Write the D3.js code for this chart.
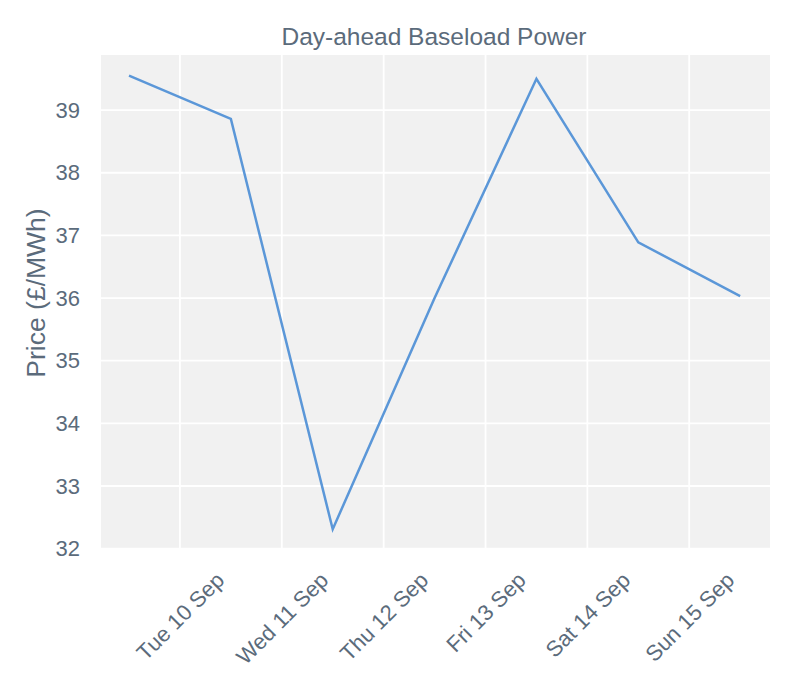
<!DOCTYPE html>
<html>
<head>
<meta charset="utf-8">
<script src="https://cdn.jsdelivr.net/npm/d3@7"></script>
<style>
  body { margin: 0; background: #ffffff; }
  svg { display: block; }
  text { font-family: "Liberation Sans", Arial, Helvetica, sans-serif; fill: #5b6b7b; }
</style>
</head>
<body>
<svg id="chart" width="800" height="700"></svg>
<script>
// ---- data ----
const dates = ["2024-09-09T12:00", "2024-09-10T12:00", "2024-09-11T12:00", "2024-09-12T12:00",
               "2024-09-13T12:00", "2024-09-14T12:00", "2024-09-15T12:00"];
const prices = [39.55, 38.86, 32.31, 36.0, 39.50, 36.89, 36.03];
const xTickDates = ["2024-09-10", "2024-09-11", "2024-09-12", "2024-09-13", "2024-09-14", "2024-09-15"];
const yTicks = [32, 33, 34, 35, 36, 37, 38, 39];
const xDomain = ["2024-09-09T05:24", "2024-09-15T19:02"];
const yDomain = [32.01, 39.88];
const title = "Day-ahead Baseload Power";
const yLabel = "Price (£/MWh)";

// ---- layout ----
const plot = { left: 101, right: 770, top: 55, bottom: 548 };
const parse = s => new Date(s + (s.length === 10 ? "T00:00" : "") + "Z");

const svg = d3.select("#chart");
const x = d3.scaleUtc().domain(xDomain.map(parse)).range([plot.left, plot.right]);
const y = d3.scaleLinear().domain(yDomain).range([plot.bottom, plot.top]);

// background
svg.append("rect")
  .attr("x", plot.left).attr("y", plot.top)
  .attr("width", plot.right - plot.left).attr("height", plot.bottom - plot.top)
  .attr("fill", "#f1f1f1");

// grid
const grid = svg.append("g");
grid.selectAll("line.v").data(xTickDates.map(parse)).join("line")
  .attr("x1", d => x(d)).attr("x2", d => x(d))
  .attr("y1", plot.top).attr("y2", plot.bottom)
  .attr("stroke", "#ffffff").attr("stroke-width", 1.8);
grid.selectAll("line.h").data(yTicks).join("line")
  .attr("x1", plot.left).attr("x2", plot.right)
  .attr("y1", d => y(d)).attr("y2", d => y(d))
  .attr("stroke", "#ffffff").attr("stroke-width", 1.8);

// line
const data = dates.map((d, i) => ({ date: parse(d), value: prices[i] }));
svg.append("path")
  .datum(data)
  .attr("fill", "none")
  .attr("stroke", "#5b97d8")
  .attr("stroke-width", 2.5)
  .attr("stroke-linejoin", "miter")
  .attr("d", d3.line().x(d => x(d.date)).y(d => y(d.value)));

// y axis
const yAxis = d3.axisLeft(y).tickValues(yTicks).tickSize(0).tickPadding(21).tickFormat(d3.format("d"));
const gy = svg.append("g").attr("transform", `translate(${plot.left},0)`).call(yAxis);
gy.select(".domain").remove();
gy.selectAll("text").style("font-size", "22px").attr("fill", "#5b6b7b")
  .attr("font-family", "Liberation Sans, Arial, sans-serif");

// x axis
const fmt = d3.utcFormat("%a %-d %b");
const xAxis = d3.axisBottom(x).tickValues(xTickDates.map(parse)).tickSize(0).tickFormat(fmt);
const gx = svg.append("g").attr("transform", `translate(0,${plot.bottom})`).call(xAxis);
gx.select(".domain").remove();
const labelTop = 21; // below plot bottom
gx.selectAll(".tick text")
  .style("font-size", "22px")
  .attr("fill", "#5b6b7b")
  .attr("font-family", "Liberation Sans, Arial, sans-serif")
  .attr("text-anchor", "middle")
  .attr("dy", null)
  .attr("dominant-baseline", "central")
  .each(function() {
    const t = d3.select(this);
    const L = this.getComputedTextLength();
    const H = 22 * 0.95;
    const half = (L + H) * Math.SQRT1_2 / 2;
    const cy = labelTop + half;
    t.attr("y", 0).attr("x", 0)
      .attr("transform", `translate(0,${cy}) rotate(-45)`);
  });

// title
svg.append("text")
  .attr("x", 434)
  .attr("y", 45)
  .attr("text-anchor", "middle")
  .style("font-size", "24.5px")
  .text(title);

// y label
svg.append("text")
  .attr("transform", `translate(45,293) rotate(-90)`)
  .attr("text-anchor", "middle")
  .style("font-size", "26.5px")
  .text(yLabel);
</script>
</body>
</html>
